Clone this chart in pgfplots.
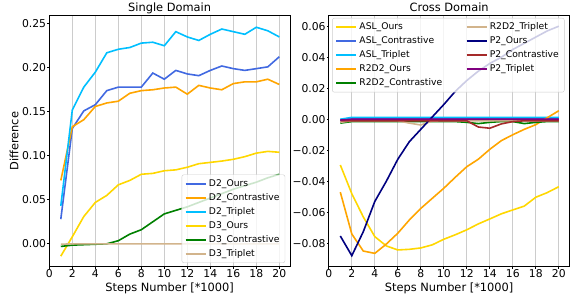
\documentclass[border=0pt]{standalone}
\usepackage{fontspec}
\setmainfont{DejaVu Sans}
\usepackage{pgfplots}
\pgfplotsset{compat=1.18}
\definecolor{cRoyal}{RGB}{65,105,225}
\definecolor{cOrange}{RGB}{255,165,0}
\definecolor{cSky}{RGB}{0,191,255}
\definecolor{cGold}{RGB}{255,215,0}
\definecolor{cGreen}{RGB}{0,128,0}
\definecolor{cTan}{RGB}{210,180,140}
\definecolor{cNavy}{RGB}{0,0,128}
\definecolor{cBrown}{RGB}{165,42,42}
\definecolor{cPurple}{RGB}{128,0,128}
\pgfplotsset{
  base/.style={
    scale only axis, width=240.7pt, height=250.7pt, anchor=south west,
    xmin=0, xmax=20.93,
    xtick={0,2,...,20},
    scaled y ticks=false,
    /pgf/number format/assume math mode=true,
    tick label style={font=\fontsize{10.8pt}{12pt}\selectfont},
    xticklabel style={inner sep=1pt},
    yticklabel style={inner xsep=1pt},
    label style={font=\fontsize{11.4pt}{13pt}\selectfont},
    every axis title shift=0pt,
    title style={font=\fontsize{11.4pt}{13pt}\selectfont, at={(axis description cs:0.5,1.017)}, anchor=base, yshift=0pt},
    xlabel={Steps Number [*1000]},
    xlabel style={at={(axis description cs:0.5,-0.0997)}, anchor=base},
    tick align=outside, major tick length=2pt,
    xtick pos=bottom, ytick pos=left,
    axis line style={line width=1pt},
    every tick/.style={black, line width=0.8pt},
    xmajorgrids, major grid style={gray!40, line width=0.9pt},
    every axis plot/.append style={line width=1.6pt, mark=none},
    legend cell align=left,
    legend image code/.code={\draw[##1] (0pt,0pt) -- (20pt,0pt);},
    legend style={font=\fontsize{9.2pt}{11pt}\selectfont, fill=white, fill opacity=0.8, text opacity=1, draw opacity=1,
      draw=gray!40, rounded corners=2pt, row sep=0pt,
      nodes={inner ysep=2.5pt, inner xsep=2.5pt, text height=7pt, text depth=2pt}},
  }
}
\begin{document}
\begin{tikzpicture}
\useasboundingbox (0,0) rectangle (570pt,296pt);
\begin{axis}[base, at={(49.3pt,29.3pt)},
  ymin=-0.026, ymax=0.2588,
  ytick={0,0.05,0.1,0.15,0.2,0.25},
  yticklabels={0.00,0.05,0.10,0.15,0.20,0.25},
  title={Single Domain},
  ylabel={Difference},
  ylabel style={at={(axis description cs:-0.128,0.5)}, anchor=base, rotate=0},
  legend style={at={(axis description cs:0.98,0.015)}, anchor=south east},
]
\addplot[cRoyal] coordinates {(1,0.028)(2,0.131)(3,0.151)(4,0.158)(5,0.174)(6,0.178)(7,0.178)(8,0.178)(9,0.194)(10,0.187)(11,0.197)(12,0.193)(13,0.191)(14,0.197)(15,0.202)(16,0.199)(17,0.197)(18,0.199)(19,0.201)(20,0.2125)};
\addlegendentry{D2\_Ours}
\addplot[cOrange] coordinates {(1,0.072)(2,0.133)(3,0.141)(4,0.156)(5,0.160)(6,0.162)(7,0.171)(8,0.174)(9,0.175)(10,0.177)(11,0.178)(12,0.170)(13,0.180)(14,0.177)(15,0.175)(16,0.182)(17,0.184)(18,0.184)(19,0.187)(20,0.181)};
\addlegendentry{D2\_Contrastive}
\addplot[cSky] coordinates {(1,0.043)(2,0.152)(3,0.178)(4,0.195)(5,0.217)(6,0.221)(7,0.223)(8,0.228)(9,0.229)(10,0.225)(11,0.241)(12,0.235)(13,0.231)(14,0.238)(15,0.244)(16,0.241)(17,0.238)(18,0.246)(19,0.242)(20,0.235)};
\addlegendentry{D2\_Triplet}
\addplot[cGold] coordinates {(1,-0.014)(2,0.008)(3,0.031)(4,0.047)(5,0.055)(6,0.067)(7,0.072)(8,0.079)(9,0.080)(10,0.083)(11,0.084)(12,0.087)(13,0.091)(14,0.0925)(15,0.094)(16,0.096)(17,0.099)(18,0.103)(19,0.105)(20,0.104)};
\addlegendentry{D3\_Ours}
\addplot[cGreen] coordinates {(1,-0.003)(2,-0.0015)(3,-0.001)(4,-0.0005)(5,0.0)(6,0.0035)(7,0.011)(8,0.016)(9,0.025)(10,0.034)(11,0.038)(12,0.042)(13,0.047)(14,0.052)(15,0.057)(16,0.062)(17,0.066)(18,0.070)(19,0.075)(20,0.079)};
\addlegendentry{D3\_Contrastive}
\addplot[cTan] coordinates {(1,-0.0005)(2,0)(3,0)(4,0)(5,0)(6,0)(7,0)(8,0)(9,0)(10,0)(11,0)(12,0)(13,0)(14,0)(15,0)(16,0)(17,0)(18,0)(19,0)(20,0)};
\addlegendentry{D3\_Triplet}
\end{axis}
\begin{axis}[base, at={(328.8pt,29.3pt)},
  ymin=-0.0951, ymax=0.0666,
  ytick={-0.08,-0.06,-0.04,-0.02,0,0.02,0.04,0.06},
  yticklabels={−0.08,−0.06,−0.04,−0.02,0.00,0.02,0.04,0.06},
  title={Cross Domain},
  legend columns=2,
  legend style={at={(axis description cs:0.014,0.992)}, anchor=north west,
    /tikz/every even column/.append style={column sep=21pt}},
]
\addplot[cGold, forget plot] coordinates {(1,-0.0295)(2,-0.048)(3,-0.063)(4,-0.0757)(5,-0.0817)(6,-0.0843)(7,-0.0839)(8,-0.083)(9,-0.081)(10,-0.0774)(11,-0.0745)(12,-0.0713)(13,-0.0675)(14,-0.0643)(15,-0.061)(16,-0.0585)(17,-0.056)(18,-0.0503)(19,-0.0473)(20,-0.0435)};
\addplot[cRoyal, forget plot] coordinates {(1,-0.0005)(2,0.0005)(3,0.0005)(4,0.0005)(5,0.0005)(6,0.0005)(7,0.0005)(8,0.0005)(9,0.0005)(10,0.0005)(11,0.0005)(12,0.0005)(13,0.0005)(14,0.0005)(15,0.0005)(16,0.0005)(17,0.0005)(18,0.0005)(19,0.0005)(20,0.0005)};
\addplot[cSky, forget plot] coordinates {(1,0.0)(2,0.0012)(3,0.0012)(4,0.0012)(5,0.0012)(6,0.0012)(7,0.0012)(8,0.0012)(9,0.0012)(10,0.0012)(11,0.0012)(12,0.0012)(13,0.0012)(14,0.0012)(15,0.0012)(16,0.0012)(17,0.0012)(18,0.0012)(19,0.0012)(20,0.0012)};
\addplot[cOrange, forget plot] coordinates {(1,-0.047)(2,-0.074)(3,-0.085)(4,-0.0865)(5,-0.0805)(6,-0.0735)(7,-0.065)(8,-0.0575)(9,-0.051)(10,-0.0445)(11,-0.0374)(12,-0.0306)(13,-0.0258)(14,-0.0194)(15,-0.0138)(16,-0.0100)(17,-0.0065)(18,-0.0035)(19,0.001)(20,0.0055)};
\addplot[cGreen, forget plot] coordinates {(1,-0.0025)(2,-0.0015)(3,-0.0015)(4,-0.0015)(5,-0.0015)(6,-0.0015)(7,-0.0015)(8,-0.0015)(9,-0.0015)(10,-0.0015)(11,-0.0015)(12,-0.002)(13,-0.0028)(14,-0.002)(15,-0.0015)(16,-0.0015)(17,-0.0028)(18,-0.002)(19,-0.0015)(20,-0.0015)};
\addplot[cTan, forget plot] coordinates {(1,-0.002)(2,-0.001)(3,-0.001)(4,-0.001)(5,-0.001)(6,-0.001)(7,-0.0025)(8,-0.0037)(9,-0.0012)(10,-0.001)(11,-0.001)(12,-0.001)(13,-0.001)(14,-0.001)(15,-0.001)(16,-0.001)(17,-0.001)(18,-0.001)(19,-0.001)(20,-0.001)};
\addplot[cNavy, forget plot] coordinates {(1,-0.0753)(2,-0.088)(3,-0.0725)(4,-0.053)(5,-0.040)(6,-0.0258)(7,-0.0145)(8,-0.0065)(9,0.0015)(10,0.0095)(11,0.018)(12,0.025)(13,0.031)(14,0.036)(15,0.040)(16,0.045)(17,0.049)(18,0.053)(19,0.057)(20,0.060)};
\addplot[cBrown, forget plot] coordinates {(1,-0.001)(2,-0.001)(3,-0.001)(4,-0.001)(5,-0.001)(6,-0.001)(7,-0.001)(8,-0.001)(9,-0.001)(10,-0.001)(11,-0.001)(12,-0.001)(13,-0.005)(14,-0.0058)(15,-0.003)(16,-0.0015)(17,-0.001)(18,-0.001)(19,-0.001)(20,-0.001)};
\addplot[cPurple, forget plot] coordinates {(1,-0.0005)(2,0)(3,0)(4,0)(5,0)(6,0)(7,0)(8,0)(9,0)(10,0)(11,0)(12,0)(13,0)(14,0)(15,0)(16,0)(17,0)(18,0)(19,0)(20,0)};
\addlegendimage{cGold, line width=1.6pt}\addlegendentry{ASL\_Ours}
\addlegendimage{cTan, line width=1.6pt}\addlegendentry{R2D2\_Triplet}
\addlegendimage{cRoyal, line width=1.6pt}\addlegendentry{ASL\_Contrastive}
\addlegendimage{cNavy, line width=1.6pt}\addlegendentry{P2\_Ours}
\addlegendimage{cSky, line width=1.6pt}\addlegendentry{ASL\_Triplet}
\addlegendimage{cBrown, line width=1.6pt}\addlegendentry{P2\_Contrastive}
\addlegendimage{cOrange, line width=1.6pt}\addlegendentry{R2D2\_Ours}
\addlegendimage{cPurple, line width=1.6pt}\addlegendentry{P2\_Triplet}
\addlegendimage{cGreen, line width=1.6pt}\addlegendentry{R2D2\_Contrastive}
\end{axis}
\end{tikzpicture}
\end{document}
